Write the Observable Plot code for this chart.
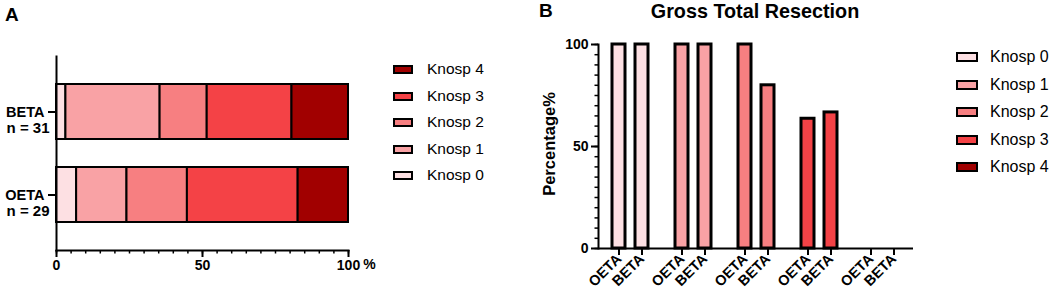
<!DOCTYPE html>
<html>
<head>
<meta charset="utf-8">
<script src="https://cdn.jsdelivr.net/npm/d3@7"></script>
<script src="https://cdn.jsdelivr.net/npm/@observablehq/plot@0.6"></script>
<style>
  body { margin: 0; background: #fff; font-family: "Liberation Sans", Arial, sans-serif; }
  #page { position: relative; width: 1052px; height: 300px; overflow: hidden; }
  .abs { position: absolute; white-space: nowrap; }
  .panel { font-weight: bold; font-size: 19px; line-height: 22px; }
  .sw { box-sizing: border-box; border: 2px solid #000; }
</style>
</head>
<body>
<div id="page">
  <div id="A" class="abs" style="left:0;top:0"></div>
  <div id="B" class="abs" style="left:530px;top:0"></div>
  <div class="abs panel" style="left:5px;top:4px">A</div>
  <div class="abs panel" style="left:539px;top:0px">B</div>
  <div class="abs" style="left:605px;top:0px;width:300px;text-align:center;font-weight:bold;font-size:19.8px;line-height:22px">Gross Total Resection</div>
  <div class="abs" style="left:488.5px;top:134px;width:120px;text-align:center;font-weight:bold;font-size:16.5px;line-height:20px;transform:rotate(-90deg)">Percentage%</div>
  <div id="legA"></div>
  <div id="legB"></div>
</div>
<script>
// ---- data ----
const knospLevels = ["Knosp 0", "Knosp 1", "Knosp 2", "Knosp 3", "Knosp 4"];
const knospColors = ["#fde0e3", "#f9a2a5", "#f77f81", "#f44246", "#a10000"];
const groups = ["BETA", "OETA"];
const groupN = [31, 29];
const betaCounts = [1, 10, 5, 9, 6];
const oetaCounts = [2, 5, 6, 11, 5];
const gtrGroups = ["OETA", "BETA"];
const gtrOETA = [100, 100, 100, 63.6, 0];
const gtrBETA = [100, 100, 80, 66.7, 0];
const xTicksA = [0, 50, 100];
const yTicksB = [0, 50, 100];

// ---- tables ----
const countsByGroup = {BETA: betaCounts, OETA: oetaCounts};
const rowsA = [];
groups.forEach((g, gi) => {
  knospLevels.forEach((k, ki) => {
    rowsA.push({group: g, knosp: k, pct: countsByGroup[g][ki] / groupN[gi] * 100});
  });
});
const rowsB = [];
knospLevels.forEach((k, ki) => {
  rowsB.push({knosp: k, group: "OETA", value: gtrOETA[ki]});
  rowsB.push({knosp: k, group: "BETA", value: gtrBETA[ki]});
});

const font = "Liberation Sans, Arial, sans-serif";

const plotA = Plot.plot({
  width: 390, height: 300,
  marginLeft: 56, marginRight: 42, marginTop: 56, marginBottom: 50,
  style: {fontFamily: font, fontSize: "14px", fontWeight: "bold", color: "#000", background: "transparent", overflow: "visible"},
  x: {domain: [0, 100]},
  y: {domain: groups, paddingInner: 0.34, paddingOuter: 0.326},
  color: {domain: knospLevels, range: knospColors},
  marks: [
    Plot.barX(rowsA, Plot.stackX({x: "pct", y: "group", fill: "knosp", stroke: "#000", strokeWidth: 2})),
    Plot.frame({anchor: "left", strokeWidth: 2}),
    Plot.frame({anchor: "bottom", strokeWidth: 2}),
    Plot.axisX({ticks: d3.range(0, 101, 5), tickSize: 3.5, tickFormat: () => "", label: null, strokeWidth: 1.5}),
    Plot.axisX({ticks: xTicksA, tickSize: 7, tickPadding: 3, label: null, strokeWidth: 2}),
    Plot.text([100], {x: d => d, text: () => "%", frameAnchor: "bottom", dy: 18, dx: 21}),
    Plot.axisY({tickSize: 8, tickPadding: 4, label: null, strokeWidth: 2, fontSize: 14.5}),
    Plot.text(groups, {y: d => d, text: (d, i) => `n = ${groupN[i]}`, frameAnchor: "left", textAnchor: "end", dx: -7, dy: 16, fontSize: 15})
  ]
});
document.getElementById("A").append(plotA);

const plotB = Plot.plot({
  width: 393, height: 300,
  marginLeft: 67, marginRight: 10, marginTop: 44, marginBottom: 52,
  style: {fontFamily: font, fontSize: "14px", fontWeight: "bold", color: "#000", background: "transparent", overflow: "visible"},
  fx: {domain: knospLevels, padding: 0, axis: null, label: null},
  x: {domain: gtrGroups, paddingInner: 0.447, paddingOuter: 0.568},
  y: {domain: [0, 100]},
  color: {domain: knospLevels, range: knospColors},
  marks: [
    Plot.barY(rowsB, {fx: "knosp", x: "group", y: "value", fill: "knosp", stroke: "#000", strokeWidth: 3}),
    Plot.ruleY([0], {strokeWidth: 2}),
    Plot.axisX({tickRotate: -45, tickSize: 7, tickPadding: 1, label: null, strokeWidth: 2, fontSize: 14.5}),
    Plot.axisY({ticks: d3.range(0, 101, 5), tickSize: 3.5, tickFormat: () => "", label: null, strokeWidth: 1.5}),
    Plot.axisY({ticks: yTicksB, tickSize: 7, tickPadding: 3, label: null, strokeWidth: 2}),
    Plot.frame({anchor: "left", facetAnchor: "left", strokeWidth: 2})
  ]
});
document.getElementById("B").append(plotB);

// ---- legends ----
function legend(el, order, left, textLeft, centers, swW, swH, fs) {
  order.forEach((k, i) => {
    const ki = knospLevels.indexOf(k);
    const sw = document.createElement("div");
    sw.className = "sw abs";
    Object.assign(sw.style, {left: left + "px", top: (centers[i] - swH / 2) + "px", width: swW + "px", height: swH + "px", background: knospColors[ki]});
    el.append(sw);
    const t = document.createElement("div");
    t.className = "abs";
    Object.assign(t.style, {left: textLeft + "px", top: (centers[i] - fs * 0.6) + "px", fontSize: fs + "px", lineHeight: (fs * 1.2) + "px"});
    t.textContent = k;
    el.append(t);
  });
}
legend(document.getElementById("legA"), knospLevels.slice().reverse(), 393, 427, [69, 96, 122, 149, 175], 20, 9, 15.5);
legend(document.getElementById("legB"), knospLevels, 956, 990, [57, 84.5, 112, 139.5, 167], 22, 10, 16);
</script>
</body>
</html>
